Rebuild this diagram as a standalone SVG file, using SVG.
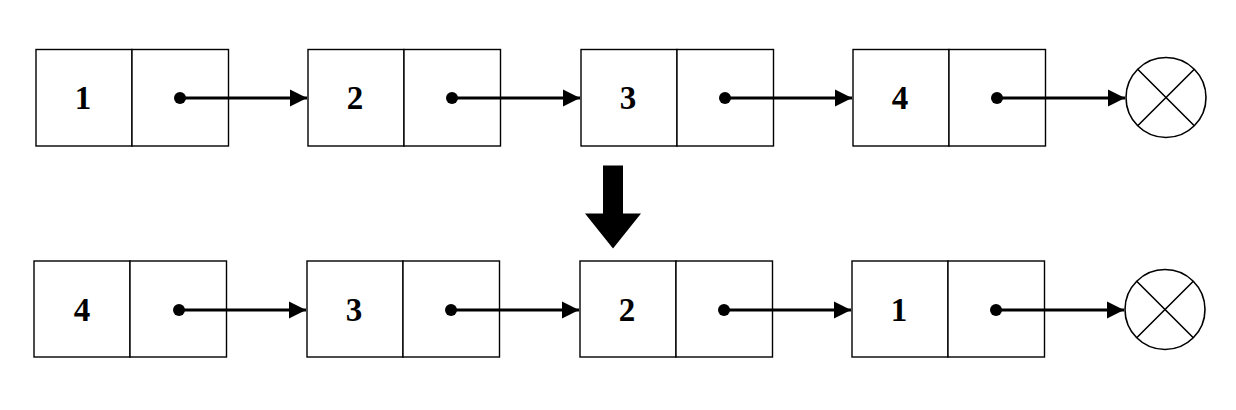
<svg xmlns="http://www.w3.org/2000/svg" width="1236" height="410" viewBox="0 0 1236 410">
<style>
.box{fill:#fff;stroke:#000;stroke-width:1.4}
.lbl{font-family:"Liberation Serif",serif;font-weight:bold;font-size:33px;text-anchor:middle;dominant-baseline:central}
.link{stroke:#000;stroke-width:3;fill:none}
.dot{fill:#000}
.nil{fill:#fff;stroke:#000;stroke-width:1.6}
</style>
<defs>
<marker id="ah" markerUnits="userSpaceOnUse" markerWidth="18" markerHeight="18" refX="17" refY="8.5" orient="auto" viewBox="0 0 18 17">
<path d="M0,0 L17,8.5 L0,17 Z" fill="#000"/>
</marker>
</defs>
<rect width="1236" height="410" fill="#fff"/>
<g id="top-node-1"><rect class="box" x="36" y="49.5" width="96" height="96.5"/><rect class="box" x="132" y="49.5" width="96.5" height="96.5"/><text class="lbl" x="83" y="98">1</text></g>
<g id="top-node-2"><rect class="box" x="308" y="49.5" width="96" height="96.5"/><rect class="box" x="404" y="49.5" width="96.5" height="96.5"/><text class="lbl" x="355" y="98">2</text></g>
<g id="top-node-3"><rect class="box" x="581" y="49.5" width="96" height="96.5"/><rect class="box" x="677" y="49.5" width="96.5" height="96.5"/><text class="lbl" x="628" y="98">3</text></g>
<g id="top-node-4"><rect class="box" x="853" y="49.5" width="96" height="96.5"/><rect class="box" x="949" y="49.5" width="96.5" height="96.5"/><text class="lbl" x="900" y="98">4</text></g>
<g id="top-null"><circle class="nil" cx="1166" cy="97.5" r="40"/><path class="nil" d="M1137.7,69.2 L1194.3,125.8 M1194.3,69.2 L1137.7,125.8"/></g>
<g id="bot-node-4"><rect class="box" x="34" y="261" width="96" height="96"/><rect class="box" x="130" y="261" width="96.5" height="96"/><text class="lbl" x="82" y="310">4</text></g>
<g id="bot-node-3"><rect class="box" x="307" y="261" width="96" height="96"/><rect class="box" x="403" y="261" width="96.5" height="96"/><text class="lbl" x="354" y="310">3</text></g>
<g id="bot-node-2"><rect class="box" x="580" y="261" width="96" height="96"/><rect class="box" x="676" y="261" width="96.5" height="96"/><text class="lbl" x="627" y="310">2</text></g>
<g id="bot-node-1"><rect class="box" x="852" y="261" width="96" height="96"/><rect class="box" x="948" y="261" width="96.5" height="96"/><text class="lbl" x="899" y="310">1</text></g>
<g id="bot-null"><circle class="nil" cx="1165" cy="309.5" r="40"/><path class="nil" d="M1136.7,281.2 L1193.3,337.8 M1193.3,281.2 L1136.7,337.8"/></g>
<g id="transform-arrow"><path d="M603,165.5 L623,165.5 L623,213.5 L641,213.5 L613,248.5 L585,213.5 L603,213.5 Z" fill="#000"/></g>
<g id="connectors">
<circle class="dot" cx="180" cy="98" r="6"/><line class="link" x1="180" y1="98" x2="307" y2="98" marker-end="url(#ah)"/>
<circle class="dot" cx="452" cy="98" r="6"/><line class="link" x1="452" y1="98" x2="580" y2="98" marker-end="url(#ah)"/>
<circle class="dot" cx="725" cy="98" r="6"/><line class="link" x1="725" y1="98" x2="852" y2="98" marker-end="url(#ah)"/>
<circle class="dot" cx="997" cy="98" r="6"/><line class="link" x1="997" y1="98" x2="1125" y2="98" marker-end="url(#ah)"/>
<circle class="dot" cx="179" cy="310" r="6"/><line class="link" x1="179" y1="310" x2="306" y2="310" marker-end="url(#ah)"/>
<circle class="dot" cx="451" cy="310" r="6"/><line class="link" x1="451" y1="310" x2="579" y2="310" marker-end="url(#ah)"/>
<circle class="dot" cx="724" cy="310" r="6"/><line class="link" x1="724" y1="310" x2="851" y2="310" marker-end="url(#ah)"/>
<circle class="dot" cx="996" cy="310" r="6"/><line class="link" x1="996" y1="310" x2="1124" y2="310" marker-end="url(#ah)"/>
</g>
</svg>
